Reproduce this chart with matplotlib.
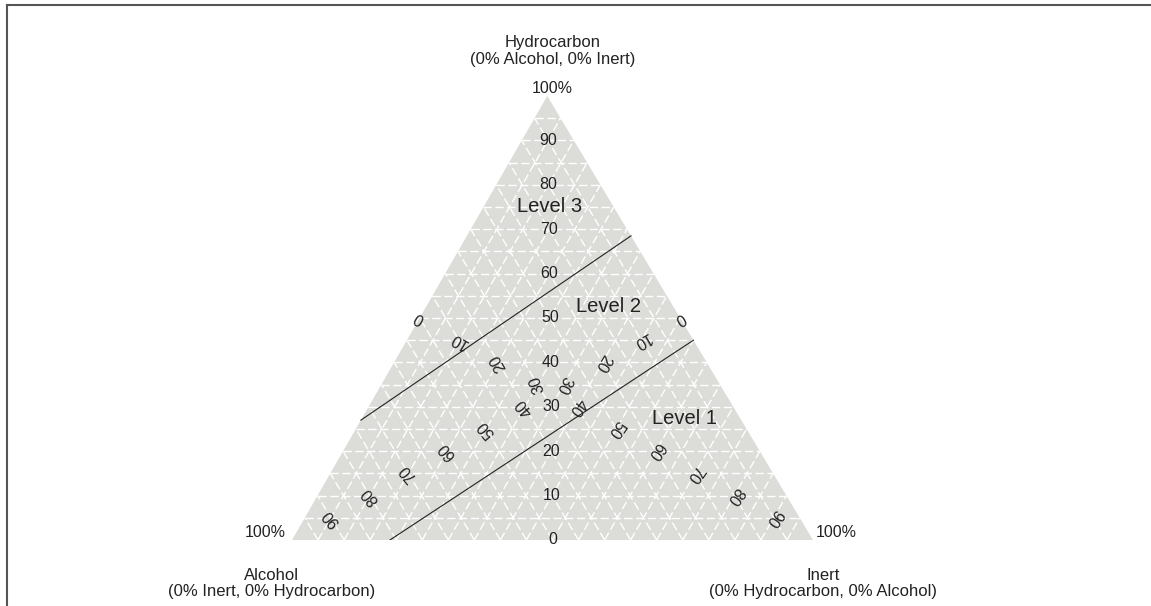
import numpy as np
import matplotlib.pyplot as plt
from matplotlib.lines import Line2D

# compositions in percent: (hydrocarbon, alcohol, inert)
h_ticks = [0, 10, 20, 30, 40, 50, 60, 70, 80, 90]
left_inert_ticks = [0, 10, 20, 30]
left_inert_rot = [150, 150, 120, 110]
left_alcohol_ticks = [40, 50, 60, 70, 80, 90]
right_alcohol_ticks = [0, 10, 20, 30]
right_alcohol_rot = [210, 210, 240, 245]
right_inert_ticks = [40, 50, 60, 70, 80, 90]

boundary_upper = [(27.0, 73.0, 0.0), (68.5, 0.0, 31.5)]
boundary_lower = [(0.0, 81.2, 18.8), (45.0, 0.0, 55.0)]

level_names = ["Level 3", "Level 2", "Level 1"]
level_pos = [(75.0, 12.4, 12.6), (52.7, 12.3, 35.0), (27.4, 10.7, 61.9)]

APEX = 0.49  # apex sits a little left of the base midpoint


def tern(h, a, i):
    s = h + a + i
    h, i = h / s, i / s
    return i + APEX * h, h


fig = plt.figure(figsize=(11.51, 6.06), dpi=100)
W, H = 1151.0, 606.0
ax = fig.add_axes([292 / W, (H - 540) / H, 521 / W, 444 / H])
ax.set_xlim(0, 1)
ax.set_ylim(0, 1)
ax.axis('off')

# frame (top and left edges)
fig.add_artist(Line2D([7 / W, 1], [1 - 5 / H, 1 - 5 / H], color='#555555', lw=1.5))
fig.add_artist(Line2D([7 / W, 7 / W], [0, 1 - 5 / H], color='#555555', lw=1.5))

corners = [tern(0, 100, 0), tern(0, 0, 100), tern(100, 0, 0)]
ax.add_patch(plt.Polygon(corners, closed=True, facecolor='#dcdcd9', edgecolor='none'))

# grid every 5%
for v in range(5, 100, 5):
    r = 100 - v
    segs = [
        (tern(v, r, 0), tern(v, 0, r)),
        (tern(0, v, r), tern(r, v, 0)),
        (tern(0, r, v), tern(r, 0, v)),
    ]
    for p, q in segs:
        ax.plot([p[0], q[0]], [p[1], q[1]], color='white', lw=1.0,
                dashes=(6, 2.5))

for b in (boundary_upper, boundary_lower):
    xs, ys = zip(*[tern(*c) for c in b])
    ax.plot(xs, ys, color='#222222', lw=0.8)

tick_kw = dict(fontsize=11.5, color='#222222', ha='center', va='center',
               family='Liberation Sans')

for v in h_ticks:
    x, y = tern(v, (100 - v) / 2, (100 - v) / 2)
    ax.text(x, y, str(v), **tick_kw)

for v, rot in zip(left_inert_ticks, left_inert_rot):
    x, y = tern((100 - v) / 2, (100 - v) / 2, v)
    ax.text(x, y, str(v), rotation=rot, **tick_kw)
for v in left_alcohol_ticks:
    x, y = tern((100 - v) / 2, v, (100 - v) / 2)
    ax.text(x, y, str(v), rotation=130, **tick_kw)
for v, rot in zip(right_alcohol_ticks, right_alcohol_rot):
    x, y = tern((100 - v) / 2, v, (100 - v) / 2)
    ax.text(x, y, str(v), rotation=rot, **tick_kw)
for v in right_inert_ticks:
    x, y = tern((100 - v) / 2, (100 - v) / 2, v)
    ax.text(x, y, str(v), rotation=235, **tick_kw)

for name, c in zip(level_names, level_pos):
    x, y = tern(*c)
    ax.text(x, y, name, fontsize=14.5, color='#222222', ha='center',
            va='center', family='Liberation Sans')

lab_kw = dict(fontsize=11.5, color='#222222', family='Liberation Sans',
              ha='center', va='center', clip_on=False)
ax.text(0.5, 1.018, "100%", **lab_kw)
ax.text(-0.051, 0.018, "100%", **lab_kw)
ax.text(1.044, 0.018, "100%", **lab_kw)

ttl_kw = dict(fontsize=12, color='#222222', family='Liberation Sans',
              ha='center', va='center', linespacing=1.15, clip_on=False)
ax.text(0.5, 1.101, "Hydrocarbon\n(0% Alcohol, 0% Inert)", **ttl_kw)
ax.text(-0.04, -0.098, "Alcohol\n(0% Inert, 0% Hydrocarbon)", **ttl_kw)
ax.text(1.019, -0.098, "Inert\n(0% Hydrocarbon, 0% Alcohol)", **ttl_kw)

fig.savefig('out.png', dpi=100)
